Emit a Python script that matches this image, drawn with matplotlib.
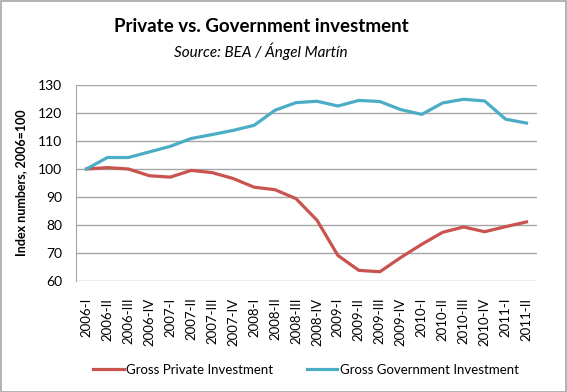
import matplotlib
matplotlib.use("Agg")
import matplotlib.pyplot as plt
from matplotlib.patches import Rectangle

plt.rcParams['font.family'] = ['Lato', 'DejaVu Sans']

quarters = ["2006-I", "2006-II", "2006-III", "2006-IV", "2007-I", "2007-II", "2007-III", "2007-IV",
            "2008-I", "2008-II", "2008-III", "2008-IV", "2009-I", "2009-II", "2009-III", "2009-IV",
            "2010-I", "2010-II", "2010-III", "2010-IV", "2011-I", "2011-II"]
private = [100, 100.5, 100, 97.6, 97.1, 99.5, 98.7, 96.6, 93.5, 92.6, 89.4, 81.7,
           69.1, 63.8, 63.3, 68.4, 73.1, 77.4, 79.3, 77.6, 79.4, 81.1]
government = [100, 104.1, 104.1, 106.1, 108.1, 110.9, 112.3, 113.8, 115.6, 121.0, 123.7, 124.2,
              122.5, 124.5, 124.1, 121.2, 119.5, 123.6, 124.9, 124.3, 117.8, 116.4]
yticks = [60, 70, 80, 90, 100, 110, 120, 130]

fig = plt.figure(figsize=(5.67, 3.92), dpi=100)
ax = fig.add_axes([76/567, 1-281/392, (537-76)/567, (281-85)/392])

x = list(range(len(quarters)))
ax.plot(x, private, color='#C9534E', lw=2.3, label='Gross Private Investment', solid_joinstyle='round')
ax.plot(x, government, color='#4BACC6', lw=2.3, label='Gross Government Investment', solid_joinstyle='round')

ax.set_xlim(-0.5, len(quarters) - 0.5)
ax.set_ylim(60, 130)
ax.set_yticks(yticks)
ax.set_yticklabels([str(v) for v in yticks], fontsize=10)
ax.set_xticks(x)
ax.set_xticklabels(quarters, rotation=90, fontsize=9.5)
ax.tick_params(axis='y', length=0, pad=10)
ax.tick_params(axis='x', length=0, pad=12)
ax.grid(axis='y', color='#A6A6A6', lw=1)
ax.set_axisbelow(True)
for s in ['top', 'right', 'bottom']:
    ax.spines[s].set_visible(False)
ax.spines['left'].set_color('#A6A6A6')
ax.set_ylabel('Index numbers, 2006=100', fontsize=9, fontweight='bold', labelpad=8)

fig.text(261/567, 1-26/392, 'Private vs. Government investment', ha='center', va='center',
         fontsize=13.5, fontweight='bold')
fig.text(261/567, 1-51/392, 'Source: BEA / Ángel Martín', ha='center', va='center',
         fontsize=11, style='italic')

fig.legend(loc='center', bbox_to_anchor=(306/567, 1-370/392), ncol=2, frameon=False,
           fontsize=9.5, handlelength=2.3, handletextpad=0.2, columnspacing=2.5)

fig.patches.append(Rectangle((0.001, 0.001), 0.997, 0.997, transform=fig.transFigure,
                             fill=False, edgecolor='#A6A6A6', lw=1.2))

fig.savefig('out.png', dpi=100)
